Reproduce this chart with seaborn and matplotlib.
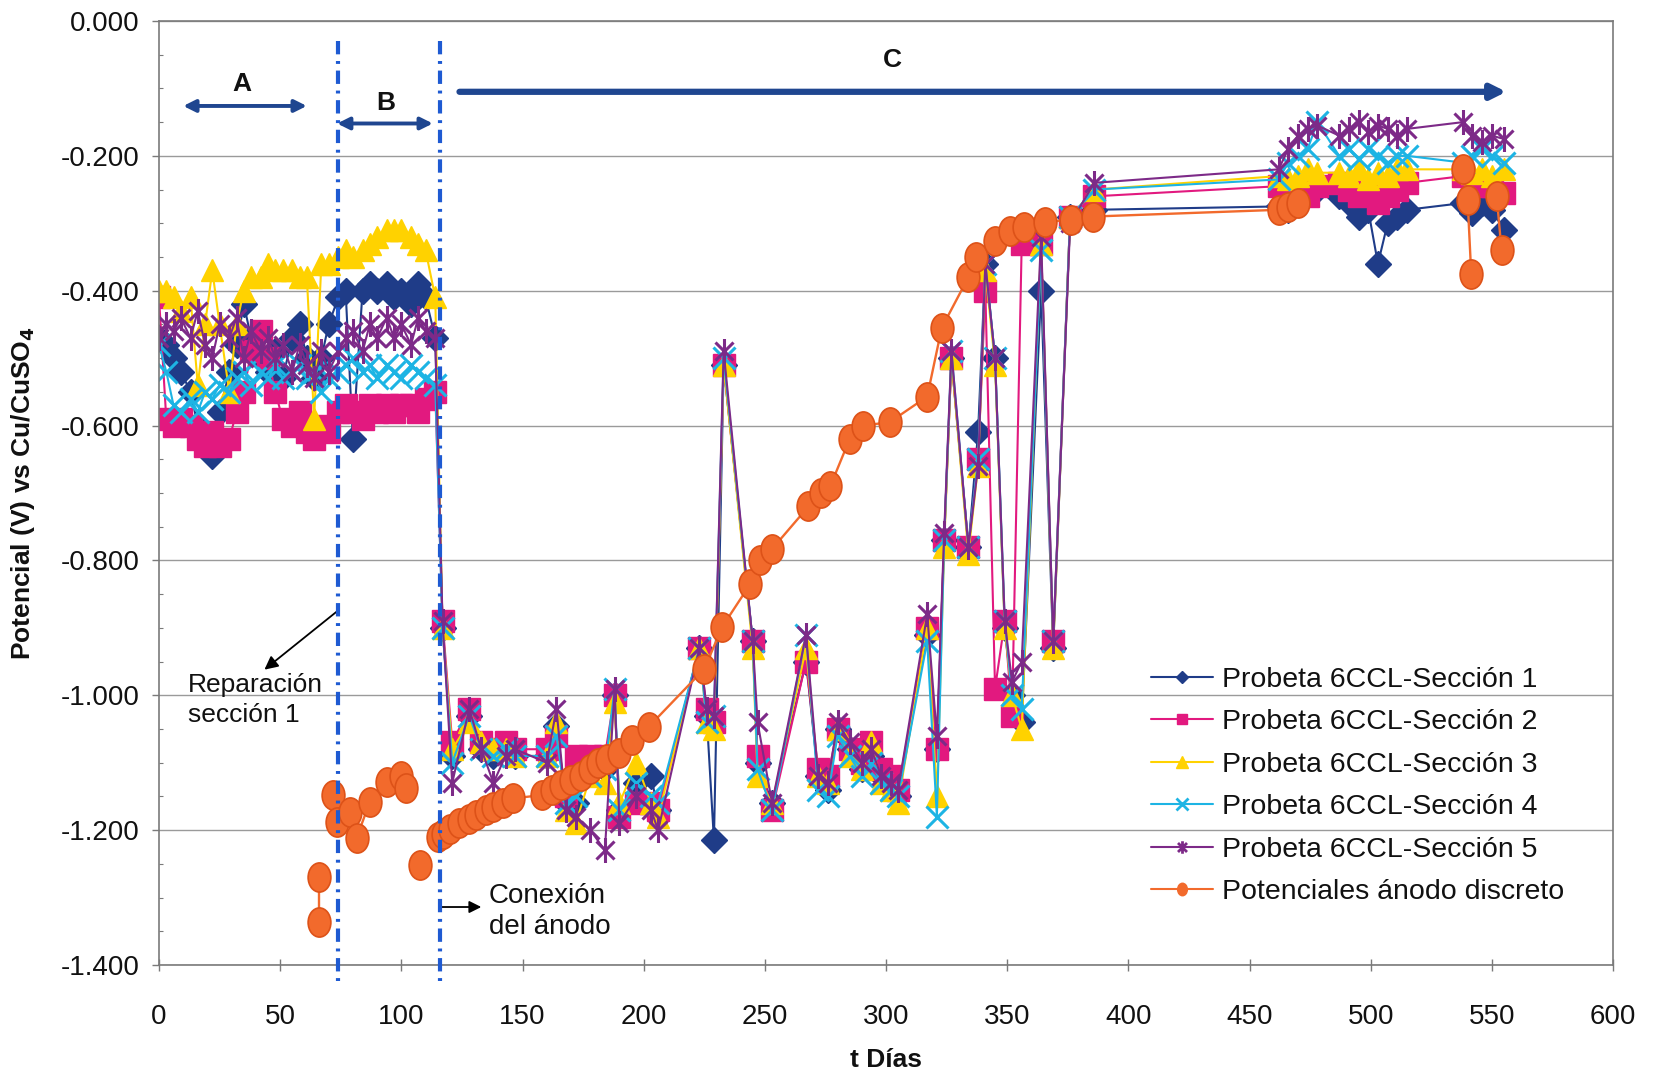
import numpy as np
import pandas as pd
import matplotlib
matplotlib.use("Agg")
import matplotlib.pyplot as plt
import seaborn as sns
from matplotlib.markers import MarkerStyle
from matplotlib.transforms import Affine2D
from matplotlib.path import Path
from matplotlib.lines import Line2D

# ---------------- data ----------------
days_ab = [0, 3, 6, 9, 13, 16, 19, 22, 25, 29, 32, 35, 38, 42, 45, 48, 51, 55, 58, 61,
           64, 67, 70, 74, 77, 80, 84, 87, 90, 94, 97, 100, 104, 107, 110, 114]
days_c = [117, 121, 128, 133, 138, 143, 147,
          160, 164, 168, 172, 178, 184, 188, 190, 197, 203, 206,
          223, 226, 229, 233, 245, 247, 253,
          267, 272, 276, 280, 285, 290, 294, 298, 302, 305,
          317, 321, 324, 327, 334, 338, 341, 345, 349, 352, 356, 364, 369, 376, 386,
          462, 466, 470, 474, 478,
          487, 491, 495, 499, 503, 507, 511, 515,
          538, 542, 546, 550, 555]

s1_ab = [-0.47, -0.48, -0.50, -0.52, -0.55, -0.60, -0.63, -0.645, -0.58, -0.52, -0.48, -0.42,
         -0.47, -0.50, -0.52, -0.49, -0.53, -0.47, -0.45, -0.50, -0.53, -0.50, -0.45, -0.41,
         -0.40, -0.62, -0.40, -0.39, -0.40, -0.39, -0.41, -0.40, -0.42, -0.39, -0.41, -0.47]
s2_ab = [-0.41, -0.59, -0.60, -0.59, -0.60, -0.62, -0.63, -0.61, -0.63, -0.62, -0.58, -0.55,
         -0.49, -0.46, -0.50, -0.55, -0.59, -0.60, -0.58, -0.61, -0.62, -0.60, -0.61, -0.58,
         -0.57, -0.58, -0.59, -0.57, -0.58, -0.57, -0.58, -0.57, -0.57, -0.58, -0.56, -0.55]
s3_ab = [-0.40, -0.40, -0.41, -0.43, -0.41, -0.54, -0.45, -0.37, -0.45, -0.55, -0.45, -0.40,
         -0.38, -0.38, -0.36, -0.37, -0.37, -0.37, -0.38, -0.38, -0.59, -0.36, -0.36, -0.35,
         -0.34, -0.35, -0.34, -0.33, -0.32, -0.31, -0.31, -0.31, -0.32, -0.33, -0.34, -0.41]
s4_ab = [-0.48, -0.52, -0.57, -0.58, -0.56, -0.58, -0.55, -0.56, -0.54, -0.55, -0.53, -0.52,
         -0.54, -0.52, -0.53, -0.51, -0.53, -0.52, -0.51, -0.53, -0.52, -0.55, -0.53, -0.52,
         -0.51, -0.50, -0.52, -0.51, -0.53, -0.51, -0.52, -0.53, -0.51, -0.52, -0.53, -0.54]
s5_ab = [-0.47, -0.45, -0.46, -0.44, -0.47, -0.43, -0.48, -0.50, -0.45, -0.47, -0.44, -0.50,
         -0.46, -0.49, -0.47, -0.50, -0.48, -0.52, -0.48, -0.51, -0.53, -0.49, -0.52, -0.49,
         -0.47, -0.46, -0.49, -0.45, -0.47, -0.44, -0.47, -0.45, -0.48, -0.44, -0.46, -0.47]

s1_c = [-0.90, -1.09, -1.03, -1.08, -1.09, -1.08, -1.09,
        -1.09, -1.045, -1.16, -1.16, -1.10, -1.11, -1.00, -1.17, -1.13, -1.12, -1.17,
        -0.93, -1.03, -1.215, -0.51, -0.92, -1.10, -1.16,
        -0.95, -1.12, -1.14, -1.05, -1.08, -1.11, -1.09, -1.12, -1.13, -1.15,
        -0.91, -1.08, -0.77, -0.50, -0.78, -0.61, -0.36, -0.50, -0.90, -1.00, -1.04, -0.40, -0.93, -0.29, -0.28,
        -0.275, -0.28, -0.27, -0.255, -0.25,
        -0.26, -0.27, -0.29, -0.28, -0.36, -0.30, -0.29, -0.28,
        -0.27, -0.285, -0.27, -0.28, -0.31]
s2_c = [-0.89, -1.07, -1.02, -1.07, -1.08, -1.07, -1.08,
        -1.08, -1.06, -1.15, -1.09, -1.09, -1.09, -1.00, -1.18, -1.16, -1.16, -1.17,
        -0.93, -1.02, -1.04, -0.51, -0.92, -1.09, -1.17,
        -0.95, -1.11, -1.12, -1.05, -1.08, -1.10, -1.07, -1.11, -1.12, -1.14,
        -0.90, -1.08, -0.77, -0.50, -0.78, -0.65, -0.40, -0.99, -0.89, -1.03, -0.33, -0.33, -0.92, -0.29, -0.26,
        -0.245, -0.25, -0.255, -0.26, -0.245,
        -0.24, -0.25, -0.26, -0.255, -0.27, -0.26, -0.25, -0.24,
        -0.23, -0.24, -0.245, -0.245, -0.255]
s3_c = [-0.90, -1.08, -1.04, -1.07, -1.08, -1.08, -1.09,
        -1.09, -1.04, -1.17, -1.19, -1.12, -1.13, -1.01, -1.16, -1.10, -1.16, -1.18,
        -0.93, -1.04, -1.05, -0.51, -0.93, -1.12, -1.16,
        -0.93, -1.12, -1.13, -1.05, -1.09, -1.11, -1.07, -1.13, -1.14, -1.16,
        -0.90, -1.15, -0.78, -0.50, -0.79, -0.66, -0.37, -0.51, -0.90, -1.00, -1.05, -0.33, -0.93, -0.29, -0.25,
        -0.23, -0.235, -0.23, -0.22, -0.225,
        -0.225, -0.23, -0.22, -0.235, -0.225, -0.23, -0.22, -0.22,
        -0.22, -0.225, -0.22, -0.23, -0.22]
s4_c = [-0.90, -1.10, -1.03, -1.08, -1.09, -1.08, -1.09,
        -1.09, -1.06, -1.16, -1.15, -1.12, -1.11, -0.99, -1.17, -1.13, -1.15, -1.16,
        -0.93, -1.04, -1.03, -0.50, -0.92, -1.11, -1.17,
        -0.91, -1.14, -1.15, -1.06, -1.09, -1.12, -1.10, -1.13, -1.14, -1.15,
        -0.92, -1.18, -0.77, -0.49, -0.78, -0.65, -0.36, -0.50, -0.89, -1.00, -1.02, -0.34, -0.92, -0.29, -0.25,
        -0.235, -0.21, -0.20, -0.19, -0.15,
        -0.20, -0.19, -0.205, -0.19, -0.20, -0.21, -0.20, -0.20,
        -0.21, -0.20, -0.19, -0.20, -0.21]
s5_c = [-0.89, -1.13, -1.02, -1.08, -1.13, -1.09, -1.08,
        -1.10, -1.02, -1.17, -1.18, -1.20, -1.23, -0.99, -1.19, -1.15, -1.17, -1.20,
        -0.93, -1.02, -1.03, -0.49, -0.92, -1.04, -1.16,
        -0.91, -1.12, -1.13, -1.04, -1.07, -1.10, -1.08, -1.12, -1.13, -1.14,
        -0.88, -1.06, -0.76, -0.49, -0.78, -0.66, -0.36, -0.50, -0.89, -0.98, -0.95, -0.32, -0.92, -0.30, -0.24,
        -0.22, -0.19, -0.17, -0.16, -0.155,
        -0.17, -0.16, -0.15, -0.165, -0.155, -0.16, -0.17, -0.16,
        -0.15, -0.17, -0.18, -0.17, -0.175]

# anode potentials (measured in separate runs -> segments)
anode_seg = [1, 1,
             2, 2, 2, 2, 2, 2, 2, 2,
             3,
             4, 4, 4, 4, 4, 4, 4, 4, 4, 4, 4, 4, 4, 4, 4, 4, 4, 4, 4, 4, 4, 4, 4, 4, 4,
             4, 4, 4, 4, 4, 4, 4, 4, 4, 4, 4, 4, 4, 4, 4, 4, 4, 4, 4, 4,
             5, 5, 5,
             6, 6]
anode_days = [66, 66,
              72, 73.5, 79, 81.5, 87, 94, 100, 102,
              107.5,
              115, 117, 120, 124, 128, 131, 135, 138, 142, 146, 158, 162, 166, 170, 174, 178, 181,
              185, 190, 195, 202, 225, 232.5, 244, 248, 253, 268, 273, 277, 285, 290.5, 301.5,
              317, 323, 334, 337, 345, 351, 357, 365.5, 376.5, 385.5, 462, 466, 470,
              538, 540, 541.5,
              552, 554]
anode_vals = [-1.27, -1.336,
              -1.148, -1.188, -1.173, -1.212, -1.158, -1.128, -1.119, -1.138,
              -1.252,
              -1.21, -1.205, -1.198, -1.19, -1.183, -1.178, -1.17, -1.165, -1.16, -1.153, -1.148,
              -1.14, -1.133, -1.126, -1.12, -1.11, -1.10, -1.095, -1.085, -1.067, -1.047,
              -0.961, -0.898, -0.835, -0.80, -0.783, -0.72, -0.70, -0.69, -0.62, -0.60, -0.595,
              -0.557, -0.455, -0.38, -0.35, -0.327, -0.311, -0.305, -0.298, -0.295, -0.29,
              -0.28, -0.276, -0.27,
              -0.22, -0.265, -0.375,
              -0.26, -0.34]

labels = ["Probeta 6CCL-Sección 1", "Probeta 6CCL-Sección 2", "Probeta 6CCL-Sección 3",
          "Probeta 6CCL-Sección 4", "Probeta 6CCL-Sección 5", "Potenciales ánodo discreto"]
y_ticks = [0.0, -0.2, -0.4, -0.6, -0.8, -1.0, -1.2, -1.4]
x_ticks = [0, 50, 100, 150, 200, 250, 300, 350, 400, 450, 500, 550, 600]

# ---------------- style ----------------
sns.set_theme(style="white")
plt.rcParams["font.family"] = ["Liberation Sans", "DejaVu Sans"]
plt.rcParams["axes.unicode_minus"] = False

C_NAVY = "#1F3C88"
C_PINK = "#E2197F"
C_YEL = "#FFD200"
C_CYAN = "#1DB4E4"
C_PURP = "#7D2A88"
C_ORG = "#F26A2C"
C_ORG_E = "#DD5218"

star = Path([(0, -1), (0, 1), (-0.72, -0.72), (0.72, 0.72), (-0.72, 0.72), (0.72, -0.72)],
            [Path.MOVETO, Path.LINETO, Path.MOVETO, Path.LINETO, Path.MOVETO, Path.LINETO])
ellipse = MarkerStyle("o", transform=Affine2D().scale(0.78, 1.0))

fig = plt.figure(figsize=(16.59, 10.81), dpi=100)
fig.patch.set_facecolor("white")
ax = fig.add_axes([159 / 1659, 1 - 965 / 1081, 1454 / 1659, 944 / 1081])

series = [
    (s1_ab + s1_c, C_NAVY, "D", 13.5, 1.0, C_NAVY),
    (s2_ab + s2_c, C_PINK, "s", 15.5, 1.0, C_PINK),
    (s3_ab + s3_c, C_YEL, "^", 16.5, 1.0, C_YEL),
    (s4_ab + s4_c, C_CYAN, "x", 16.5, 2.2, C_CYAN),
    (s5_ab + s5_c, C_PURP, star, 18, 2.2, "none"),
]
all_days = days_ab + days_c
for vals, col, mk, ms, mew, mfc in series:
    sns.lineplot(x=all_days, y=vals, ax=ax, color=col, marker=mk, markersize=ms,
                 markeredgecolor=col, markerfacecolor=mfc, markeredgewidth=mew,
                 linewidth=1.5, sort=False, estimator=None, errorbar=None, legend=False)

df_an = pd.DataFrame({"d": anode_days, "v": anode_vals, "seg": anode_seg})
sns.lineplot(data=df_an, x="d", y="v", units="seg", ax=ax, color=C_ORG, marker=ellipse,
             markersize=21, markeredgecolor=C_ORG_E, markerfacecolor=C_ORG,
             markeredgewidth=1.2, linewidth=1.7, sort=False, estimator=None,
             errorbar=None, legend=False)

# ---------------- axes ----------------
ax.set_xlim(0, 600)
ax.set_ylim(-1.4, 0.0)
ax.set_xticks(x_ticks)
ax.set_yticks(y_ticks)
ax.set_yticklabels([f"{v:.3f}" for v in y_ticks])
ax.set_yticks(np.arange(-1.4, 0.001, 0.05), minor=True)
ax.yaxis.grid(True, which="major", color="#9a9a9a", lw=1.0)
ax.xaxis.grid(False)
for sp in ax.spines.values():
    sp.set_color("#7a7a7a")
    sp.set_linewidth(1.2)
ax.tick_params(axis="y", which="major", direction="out", length=5, width=1, color="#7a7a7a",
               pad=9, labelsize=20, labelcolor="#111111", left=True)
ax.tick_params(axis="y", which="minor", direction="in", length=3, width=0.8, color="#7a7a7a", left=True)
ax.tick_params(axis="x", which="major", direction="inout", length=8, width=1, color="#7a7a7a",
               pad=24, labelsize=20, labelcolor="#111111", bottom=True)

ax.set_xlabel("t Días", fontsize=19, fontweight="bold", color="#111111")
ax.set_ylabel(r"Potencial (V) vs Cu/CuSO$_\mathbf{4}$", fontsize=19, fontweight="bold", color="#111111")
ax.xaxis.set_label_coords(0.5, -0.088)
ax.yaxis.set_label_coords(-0.084, 0.5)

# ---------------- phase markers ----------------
dash_col = "#1E5AD2"
for xd in (74, 116):
    ax.plot([xd, xd], [-0.03, -1.43], color=dash_col, lw=3.0,
            linestyle=(0, (3.2, 1.6, 0.7, 1.6)), clip_on=False, zorder=5)

arr_col = "#1F4690"
ax.annotate("", xy=(10, -0.126), xytext=(61, -0.126),
            arrowprops=dict(arrowstyle="<|-|>", color=arr_col, lw=2.8,
                            mutation_scale=18, shrinkA=0, shrinkB=0))
ax.text(34, -0.094, "A", ha="center", va="center", fontsize=19, fontweight="bold", color="#111111")
ax.annotate("", xy=(73.5, -0.152), xytext=(113, -0.152),
            arrowprops=dict(arrowstyle="<|-|>", color=arr_col, lw=2.8,
                            mutation_scale=18, shrinkA=0, shrinkB=0))
ax.text(93.5, -0.121, "B", ha="center", va="center", fontsize=19, fontweight="bold", color="#111111")
ax.annotate("", xy=(556, -0.105), xytext=(124, -0.105),
            arrowprops=dict(arrowstyle="-|>", color=arr_col, lw=4.5,
                            mutation_scale=22, shrinkA=0, shrinkB=0))
ax.text(302.5, -0.058, "C", ha="center", va="center", fontsize=19, fontweight="bold", color="#111111")

ax.text(12, -1.007, "Reparación\nsección 1", ha="left", va="center", fontsize=19,
        linespacing=1.3, color="#111111")
ax.annotate("", xy=(43.5, -0.962), xytext=(73.3, -0.876),
            arrowprops=dict(arrowstyle="-|>", color="black", lw=1.3,
                            mutation_scale=20, shrinkA=0, shrinkB=0))
ax.text(136, -1.32, "Conexión\ndel ánodo", ha="left", va="center", fontsize=20,
        linespacing=1.25, color="#111111")
ax.annotate("", xy=(133, -1.314), xytext=(116, -1.314),
            arrowprops=dict(arrowstyle="-|>", color="black", lw=1.3,
                            mutation_scale=18, shrinkA=0, shrinkB=0))

# ---------------- legend ----------------
handles = [
    Line2D([0], [0], color=C_NAVY, marker="D", markersize=6, markeredgecolor=C_NAVY, lw=1.5),
    Line2D([0], [0], color=C_PINK, marker="s", markersize=7, markeredgecolor=C_PINK, lw=1.5),
    Line2D([0], [0], color=C_YEL, marker="^", markersize=8, markeredgecolor=C_YEL, lw=1.5),
    Line2D([0], [0], color=C_CYAN, marker="x", markersize=8, markeredgewidth=2, lw=1.5),
    Line2D([0], [0], color=C_PURP, marker=star, markersize=9, markeredgewidth=2,
           markerfacecolor="none", lw=1.5),
    Line2D([0], [0], color=C_ORG, marker=ellipse, markersize=9, markeredgecolor=C_ORG, lw=1.5),
]
leg = ax.legend(handles, labels, loc="upper left", bbox_to_anchor=(0.682, 0.316),
                frameon=False, fontsize=20.5, handlelength=2.2, handletextpad=0.3,
                labelspacing=0.58, borderaxespad=0, borderpad=0)
for t in leg.get_texts():
    t.set_color("#111111")

fig.savefig("out.png", dpi=100, facecolor="white")
